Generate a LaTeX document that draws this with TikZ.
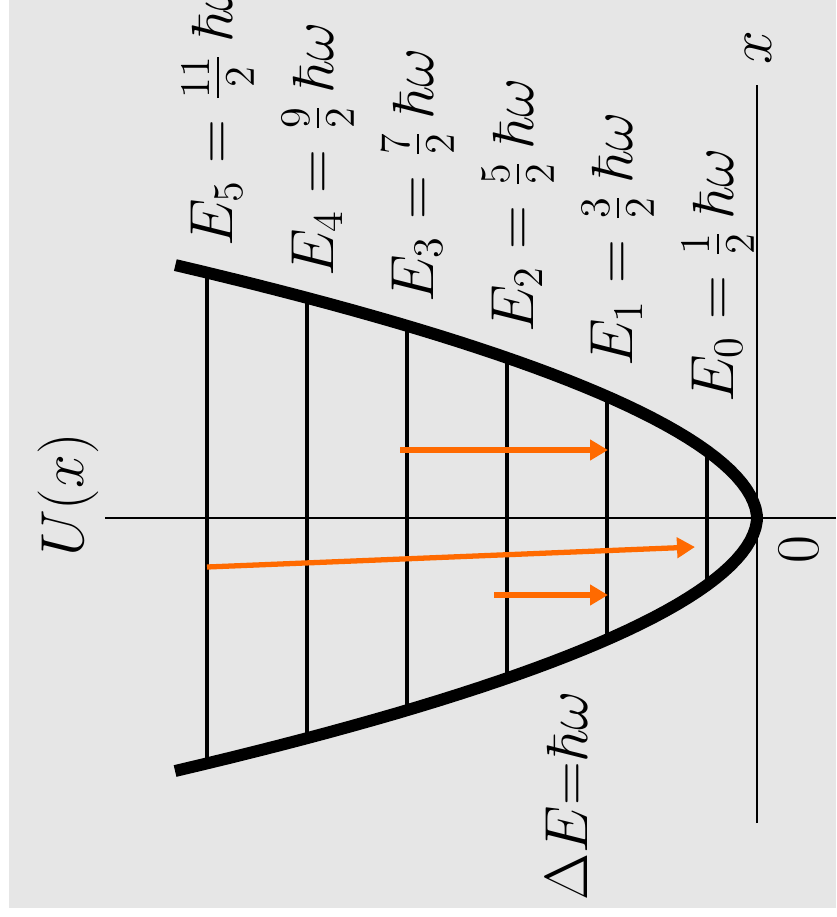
\documentclass[tikz,border=0pt]{standalone}
\usepackage{amsmath, amssymb}
\usepackage{xcolor}
\usetikzlibrary{arrows.meta}
\definecolor{bg-gray}{HTML}{E6E6E6}
\definecolor{jump-orange}{HTML}{FF6A00}

\begin{document}
\begin{tikzpicture}[every node/.style={font=\fontsize{16.5}{20}\selectfont, inner sep=0pt},
    rung/.style={line width=1.1pt},
    jump/.style={-{Triangle[length=0.18cm, width=0.2cm]}, line width=1.5pt, color=jump-orange}]
  \useasboundingbox (0, 0) rectangle (8.36, -9.17);
  \fill[bg-gray] (0.09, 0) rectangle (8.36, -9.08);
  \begin{scope}[shift={(7.57, -5.18)}, rotate=90]
    \draw[line width=0.6pt] (0, -0.79) -- (0, 6.52);
    \draw[line width=0.6pt] (-3.05, 0) -- (4.33, 0);
    \draw[line width=3.4pt, domain=-2.53:2.53, samples=80]
      plot (\x, {1.045*(abs(\x) + 0.0001)^1.85});
    \foreach \n/\xs/\fr in {0/1.15/{\frac{1}{2}}, 1/1.51/{\frac{3}{2}}, 2/1.85/{\frac{5}{2}},
        3/2.15/{\frac{7}{2}}, 4/2.41/{\frac{9}{2}}, 5/2.71/{\frac{11}{2}}} {
      \pgfmathsetmacro\lev{\n + 0.5}
      \pgfmathsetmacro\hw{(\lev/1.045)^(1/1.85)}
      \draw[rung] (-\hw, \lev) -- (\hw, \lev);
      \node[rotate=90, anchor=base west] (lab\n) at (\xs, \lev - 0.26)
        {$E_{\n} = \fr\,\hbar\omega$};
    }
    \node[rotate=90] (ulab) at (0.23, 6.89) {$U(x)$};
    \node[rotate=90] (xlab) at (4.70, -0.01) {$x$};
    \node[rotate=90] (zero) at (-0.32, -0.42) {$0$};
    \node[rotate=90] (gap) at (-2.78, 1.90) {$\Delta E{=}\hbar\omega$};
    \coordinate (e3top) at (0.68, 3.57);
    \coordinate (e1top) at (0.68, 1.49);
    \coordinate (e5mid) at (-0.49, 5.50);
    \coordinate (e0mid) at (-0.29, 0.62);
    \coordinate (e2bot) at (-0.77, 2.63);
    \coordinate (e1bot) at (-0.77, 1.49);
    \draw[jump] (e3top) -- (e1top);
    \draw[jump] (e5mid) -- (e0mid);
    \draw[jump] (e2bot) -- (e1bot);
  \end{scope}
\end{tikzpicture}
\end{document}
